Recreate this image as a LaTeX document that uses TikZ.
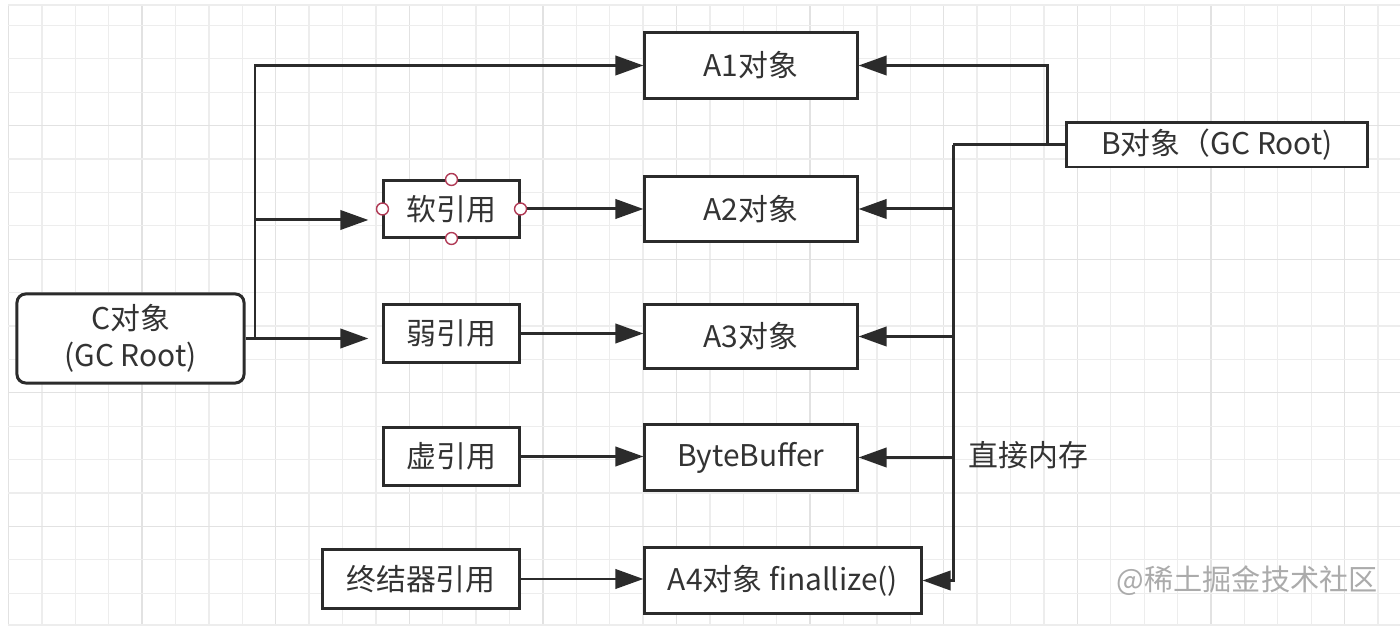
\documentclass[tikz,border=0pt]{standalone}
\usepackage{fontspec}
\setmainfont{Noto Sans CJK SC}
\usetikzlibrary{arrows.meta}
\definecolor{txt}{HTML}{333333}
\definecolor{ln}{HTML}{2B2B2B}
\definecolor{gridminor}{HTML}{EDEDED}
\definecolor{gridmajor}{HTML}{E2E2E2}
\definecolor{handle}{HTML}{B03A55}
\definecolor{wm}{HTML}{ABABAB}
\tikzset{
  box/.style={draw=ln, line width=0.85pt, rectangle, fill=white, text=txt,
    font=\fontsize{8.5}{10.5}\selectfont, inner sep=0pt},
  arr/.style={draw=ln, line width=0.85pt, -{Triangle[length=8pt,width=5.5pt]}},
  conn/.style={draw=ln, line width=0.85pt},
  hdl/.style={circle, draw=handle, fill=white, line width=0.4pt, minimum size=3.4pt, inner sep=0pt}
}
\begin{document}
\begin{tikzpicture}[x=0.01cm, y=-0.01cm]
\useasboundingbox (0,0) rectangle (1400,631);
\fill[white] (0,0) rectangle (1400,631);
% grid
\foreach \k in {0,...,41} {
  \pgfmathtruncatemacro{\m}{mod(\k,4)}
  \ifnum\m=0 \def\gc{gridmajor}\else\def\gc{gridminor}\fi
  \draw[\gc, line width=0.35pt] ({8.5+33.4*\k},5) -- ({8.5+33.4*\k},625);
}
\foreach \k in {1,...,18} {
  \pgfmathtruncatemacro{\m}{mod(\k,4)}
  \ifnum\m=0 \def\gc{gridmajor}\else\def\gc{gridminor}\fi
  \draw[\gc, line width=0.35pt] (8,{-8+33.4*\k}) -- (1400,{-8+33.4*\k});
}
\draw[gridminor, line width=0.35pt] (8,5) -- (1400,5);
\draw[gridminor, line width=0.35pt] (8,625) -- (1400,625);

% nodes
\node[box, minimum width=2.12cm, minimum height=0.65cm] (A1) at (751,65.5) {A1对象};
\node[box, minimum width=2.12cm, minimum height=0.64cm] (A2) at (751,209) {A2对象};
\node[box, minimum width=2.12cm, minimum height=0.63cm] (A3) at (751,336.5) {A3对象};
\node[box, minimum width=2.12cm, minimum height=0.65cm] (BB) at (751,457.5) {ByteBuffer};
\node[box, minimum width=2.76cm, minimum height=0.65cm] (A4) at (783,580.5) {A4对象 finallize()};
\node[box, minimum width=1.35cm, minimum height=0.56cm] (soft) at (451.5,209) {软引用};
\node[box, minimum width=1.35cm, minimum height=0.57cm] (weak) at (451.5,333.5) {弱引用};
\node[box, minimum width=1.35cm, minimum height=0.57cm] (phan) at (451.5,456.5) {虚引用};
\node[box, minimum width=1.96cm, minimum height=0.58cm] (fin) at (421,579) {终结器引用};
\node[box, rounded corners=2.5pt, minimum width=2.27cm, minimum height=0.89cm, align=center] (C) at (130.5,338.5) {C对象\\(GC Root)};
\node[box, minimum width=3.0cm, minimum height=0.44cm] (B) at (1217,145) {B对象（GC Root)};

% C connectors
\coordinate (cj) at (255,338.5);
\coordinate (cs) at (255,220);
\draw[arr, shorten >=4pt] (C.east) -- (weak.west |- C.east);
\draw[arr] (cj) |- (A1.west);
\draw[arr, shorten >=4pt] (cs) -- (soft.west |- cs);
\draw[arr] (soft.east) -- (A2.west);
\draw[arr] (weak.east) -- (A3.west |- weak.east);
\draw[arr] (phan.east) -- (BB.west |- phan.east);
\draw[arr] (fin.east) -- (A4.west |- fin.east);

% B connectors
\coordinate (bj) at (1047,145);
\coordinate (bt) at (953,145);
\draw[arr] (B.west) -- (bj) |- (A1.east);
\draw[conn] (bj) -- (bt);
\draw[arr] (bt) |- (A4.east);
\draw[arr] (bt |- A2.east) -- (A2.east);
\draw[arr] (bt |- A3.east) -- (A3.east);
\draw[arr] (bt |- BB.east) -- (BB.east);

% handles on soft reference
\node[hdl] (h1) at (soft.north) {};
\node[hdl] (h2) at (soft.south) {};
\node[hdl] (h3) at (soft.west) {};
\node[hdl] (h4) at (soft.east) {};

% labels
\node[anchor=west, text=txt, font=\fontsize{8.5}{10}\selectfont, inner sep=0pt] (lbl) at (968,455) {直接内存};
\node[anchor=west, text=wm, font=\fontsize{8.3}{10}\selectfont, inner sep=0pt] (wmk) at (1116,581) {@稀土掘金技术社区};
\end{tikzpicture}
\end{document}
